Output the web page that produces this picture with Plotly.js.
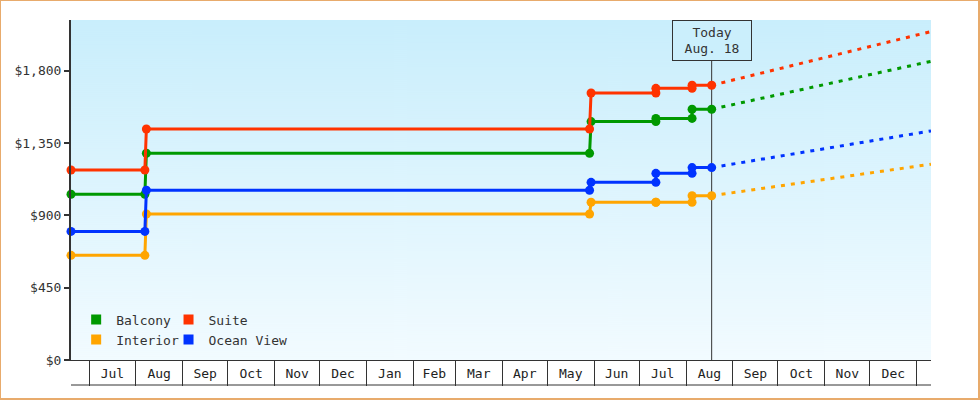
<!DOCTYPE html>
<html>
<head>
<meta charset="utf-8">
<script src="https://cdn.plot.ly/plotly-3.0.1.min.js"></script>
<style>
  body { margin: 0; background: #fff; }
  #wrap { position: relative; width: 980px; height: 400px; }
  #graph { width: 980px; height: 400px; }
  #frame { position: absolute; left: 0; top: 0; width: 980px; height: 400px; box-sizing: border-box;
           border: solid #e8ab6c; border-width: 1px 2px 2px 1px; pointer-events: none; }
</style>
</head>
<body>
<div id="wrap"><div id="graph"></div><div id="frame"></div></div>
<script>
// price history, one point per change (step ends and step starts)
const historyDates = ['2012-06-19', '2012-08-07', '2012-08-08', '2013-05-29', '2013-05-30',
    '2013-07-12', '2013-07-12', '2013-08-05', '2013-08-05', '2013-08-18'];
const balconyPrices  = [1031, 1031, 1286, 1286, 1483, 1483, 1503, 1503, 1560, 1560];
const suitePrices    = [1182, 1182, 1437, 1437, 1661, 1661, 1690, 1690, 1709, 1709];
const interiorPrices = [651, 651, 908, 908, 981, 981, 981, 981, 1022, 1022];
const oceanPrices    = [800, 800, 1056, 1056, 1105, 1105, 1161, 1161, 1197, 1197];

// projection from today to the end of the axis
const forecastDates = ['2013-08-18', '2014-01-10 12:00'];
const balconyForecast  = [1560, 1858];
const suiteForecast    = [1709, 2043];
const interiorForecast = [1022, 1218];
const oceanForecast    = [1197, 1425];

const todayDate = '2013-08-18';
const todayLabel = 'Today<br>Aug. 18';

const FONT = 'DejaVu Sans Mono, monospace';
const INK = '#333';

// legend: first column Balcony / Interior, second column Suite / Ocean View
const series = [
    { name: 'Interior',   color: '#ffa500', hist: interiorPrices, fc: interiorForecast, legend: 'legend' },
    { name: 'Balcony',    color: '#009900', hist: balconyPrices,  fc: balconyForecast,  legend: 'legend' },
    { name: 'Ocean View', color: '#0033ff', hist: oceanPrices,    fc: oceanForecast,    legend: 'legend2' },
    { name: 'Suite',      color: '#ff3300', hist: suitePrices,    fc: suiteForecast,    legend: 'legend2' },
];

let traces = [];

series.forEach(s => {
    traces.push({
        type: 'scatter', mode: 'lines', x: forecastDates, y: s.fc,
        line: { color: s.color, width: 3, dash: '4px,6px' },
        showlegend: false, hoverinfo: 'skip', cliponaxis: false
    });
});

series.forEach(s => {
    traces.push({
        type: 'scatter', mode: 'lines+markers', name: s.name, x: historyDates, y: s.hist,
        line: { color: s.color, width: 3 },
        marker: { color: s.color, size: 9, symbol: 'circle' },
        showlegend: false, cliponaxis: false
    });
});

// legend entries (squares)
['Balcony', 'Suite', 'Interior', 'Ocean View'].forEach(name => {
    let s = series.find(e => e.name === name);
    traces.push({
        type: 'scatter', mode: 'markers', name: name, x: [null], y: [null],
        marker: { color: s.color, size: 10, symbol: 'square' },
        legend: s.legend, hoverinfo: 'skip'
    });
});

// soft blue gradient for the plot area
let cv = document.createElement('canvas');
cv.width = 4; cv.height = 340;
let g2 = cv.getContext('2d');
let grad = g2.createLinearGradient(0, 0, 0, 340);
grad.addColorStop(0, '#c9eefc');
grad.addColorStop(1, '#f2fbff');
g2.fillStyle = grad;
g2.fillRect(0, 0, 4, 340);

const legendStyle = {
    orientation: 'v', y: 0.163, xanchor: 'left', yanchor: 'top',
    bgcolor: 'rgba(0,0,0,0)', borderwidth: 0, tracegroupgap: 0,
    font: { family: FONT, size: 13, color: INK }
};

const layout = {
    width: 980, height: 400,
    margin: { l: 71, r: 49, t: 20, b: 40 },
    paper_bgcolor: '#fff',
    plot_bgcolor: '#fff',
    font: { family: FONT, size: 13, color: INK },
    xaxis: {
        type: 'date', range: ['2012-06-19', '2014-01-10 12:00'],
        tick0: '2012-07-01', dtick: 'M1', tickformat: '%b', ticklabelmode: 'period',
        ticks: 'outside', ticklen: 25, tickwidth: 1, tickcolor: INK, ticklabelstandoff: -24,
        showline: true, linecolor: INK, linewidth: 1,
        showgrid: false, zeroline: false, automargin: false, fixedrange: true,
        tickfont: { family: FONT, size: 13, color: '#222' }
    },
    yaxis: {
        range: [0, 2115], tick0: 0, dtick: 450, tickprefix: '$', tickformat: ',d',
        ticks: 'outside', ticklen: 5, tickwidth: 2, tickcolor: INK,
        showline: true, linecolor: INK, linewidth: 2,
        showgrid: false, zeroline: false, automargin: false, fixedrange: true,
        tickfont: { family: FONT, size: 13, color: INK }
    },
    legend: Object.assign({ x: 0.006 }, legendStyle),
    legend2: Object.assign({ x: 0.1134 }, legendStyle),
    images: [{
        source: cv.toDataURL(), xref: 'paper', yref: 'paper',
        x: 0, y: 1, sizex: 1, sizey: 1, sizing: 'stretch', layer: 'below',
        xanchor: 'left', yanchor: 'top'
    }],
    shapes: [
        { type: 'line', xref: 'x', yref: 'paper', x0: todayDate, x1: todayDate, y0: 0, y1: 1,
          line: { color: INK, width: 1 }, layer: 'below' },
        { type: 'line', xref: 'paper', yref: 'paper', x0: 0, x1: 1, y0: -25 / 340, y1: -25 / 340,
          line: { color: INK, width: 1 } }
    ],
    annotations: [{
        x: todayDate, xref: 'x', y: 1, yref: 'paper', xanchor: 'center', yanchor: 'top',
        text: todayLabel, showarrow: false, align: 'center',
        width: 72, height: 33, borderpad: 3, borderwidth: 1, bordercolor: INK,
        bgcolor: '#cbeffc', font: { family: FONT, size: 13, color: INK }
    }]
};

Plotly.newPlot('graph', traces, layout, { displayModeBar: false, staticPlot: true });
</script>
</body>
</html>
